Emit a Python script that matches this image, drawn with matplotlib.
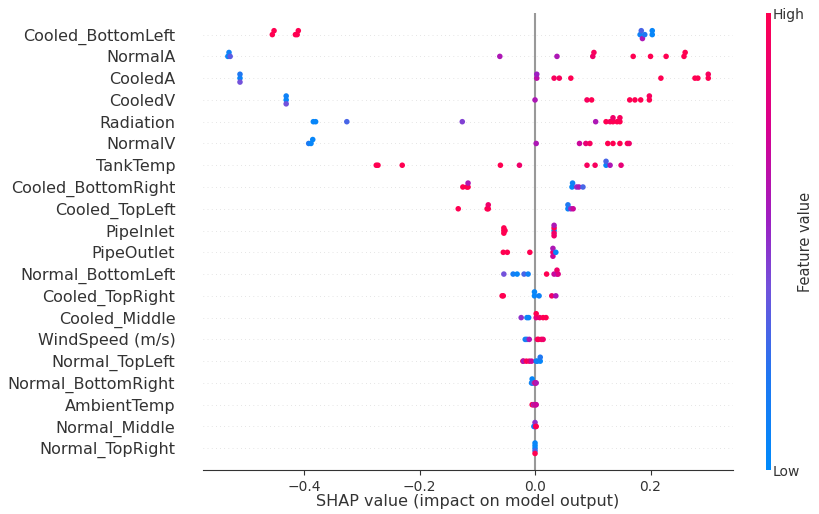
import numpy as np
import matplotlib
matplotlib.use("Agg")
import matplotlib.pyplot as plt
from matplotlib.colors import LinearSegmentedColormap

# features, top to bottom
features = ["Cooled_BottomLeft", "NormalA", "CooledA", "CooledV", "Radiation",
            "NormalV", "TankTemp", "Cooled_BottomRight", "Cooled_TopLeft",
            "PipeInlet", "PipeOutlet", "Normal_BottomLeft", "Cooled_TopRight",
            "Cooled_Middle", "WindSpeed (m/s)", "Normal_TopLeft",
            "Normal_BottomRight", "AmbientTemp", "Normal_Middle", "Normal_TopRight"]

# shap values per feature
shap_vals = [
    [-0.455, -0.452, -0.415, -0.412, -0.410, 0.182, 0.184, 0.186, 0.19, 0.203, 0.203],
    [-0.532, -0.530, -0.528, -0.061, 0.038, 0.10, 0.102, 0.17, 0.20, 0.227, 0.258, 0.26],
    [-0.511, -0.511, -0.511, 0.003, 0.003, 0.033, 0.042, 0.062, 0.218, 0.277, 0.282, 0.300, 0.300],
    [-0.431, -0.431, -0.431, 0.0, 0.09, 0.098, 0.164, 0.173, 0.183, 0.198, 0.198],
    [-0.384, -0.380, -0.326, -0.126, 0.105, 0.123, 0.13, 0.135, 0.135, 0.142, 0.147, 0.147],
    [-0.392, -0.388, -0.385, 0.002, 0.077, 0.088, 0.095, 0.126, 0.135, 0.147, 0.160, 0.163],
    [-0.275, -0.272, -0.23, -0.06, -0.027, 0.09, 0.104, 0.123, 0.123, 0.13, 0.149],
    [-0.125, -0.118, -0.116, -0.116, 0.064, 0.065, 0.072, 0.076, 0.083],
    [-0.133, -0.083, -0.081, -0.081, 0.057, 0.057, 0.062, 0.066],
    [-0.054, -0.054, -0.054, -0.052, 0.033, 0.033, 0.033, 0.033, 0.033],
    [-0.055, -0.048, -0.009, 0.031, 0.031, 0.031, 0.036],
    [-0.054, -0.038, -0.031, -0.019, -0.012, 0.02, 0.033, 0.038, 0.038, 0.040],
    [-0.057, -0.055, -0.001, -0.001, 0.007, 0.029, 0.036],
    [-0.024, -0.014, -0.011, 0.002, 0.002, 0.008, 0.014, 0.019],
    [-0.017, -0.014, -0.010, 0.004, 0.006, 0.011, 0.014],
    [-0.021, -0.020, -0.015, -0.010, -0.006, 0.002, 0.004, 0.009, 0.009],
    [-0.006, -0.005, -0.005, -0.003, 0.0, 0.001, 0.002],
    [-0.005, -0.003, -0.002, 0.0, 0.001, 0.002],
    [-0.002, 0.0, 0.0, 0.001, 0.002],
    [0.0, 0.0, 0.0, 0.0, 0.0],
]

# normalised feature values (0 = low, 1 = high)
feat_vals = [
    [1, 1, 1, 1, 1, 0.1, 0.3, 0.6, 0.2, 0.05, 0.05],
    [0.05, 0.1, 0.35, 0.6, 0.6, 0.9, 0.95, 1, 1, 1, 1, 1],
    [0.05, 0.2, 0.4, 0.65, 0.55, 0.95, 0.95, 1, 1, 1, 1, 1, 0.95],
    [0.05, 0.1, 0.4, 0.6, 0.95, 1, 1, 1, 1, 1, 0.95],
    [0.05, 0.05, 0.3, 0.45, 0.6, 1, 0.95, 1, 0.9, 1, 1, 0.95],
    [0.2, 0.05, 0.05, 0.6, 0.7, 0.85, 0.95, 1, 1, 1, 1, 0.9],
    [1, 1, 1, 1, 0.9, 0.95, 0.95, 0.05, 0.3, 0.6, 0.85],
    [1, 1, 1, 0.6, 0.05, 0.1, 0.5, 0.6, 0.3],
    [1, 1, 1, 0.9, 0.05, 0.2, 0.5, 0.7],
    [1, 1, 1, 1, 0.05, 1, 0.9, 0.6, 0.9],
    [1, 1, 1, 0.9, 0.6, 0.7, 0.05],
    [0.4, 0.15, 0.05, 0.3, 0.1, 1, 0.7, 0.6, 0.9, 0.8],
    [1, 1, 0.05, 0.05, 0.1, 0.9, 0.6],
    [0.5, 0.1, 0.05, 0.8, 1, 0.9, 1, 1],
    [0.1, 0.2, 0.6, 0.9, 1, 0.95, 0.9],
    [1, 0.6, 1, 0.9, 0.7, 0.05, 0.1, 0.05, 0.2],
    [0.05, 0.1, 0.05, 0.3, 0.9, 0.8, 0.6],
    [1, 0.9, 0.5, 1, 0.6, 0.7],
    [0.1, 0.05, 0.5, 0.9, 1],
    [0.05, 0.05, 0.3, 0.05, 1],
]

xticks = [-0.4, -0.2, 0.0, 0.2]

cmap = LinearSegmentedColormap.from_list("red_blue", [
    (0.0, (0.0, 0.545, 0.984)),
    (0.2, (0.12, 0.47, 0.95)),
    (0.4, (0.45, 0.32, 0.86)),
    (0.55, (0.62, 0.12, 0.76)),
    (0.75, (0.85, 0.0, 0.56)),
    (1.0, (1.0, 0.0, 0.318)),
])

fig = plt.figure(figsize=(8.2, 5.14), dpi=100)
ax = fig.add_axes([0.2476, 0.0856, 0.6464, 0.8894])

n = len(features)
row_height = 0.4
for i, (name, sv, fv) in enumerate(zip(features, shap_vals, feat_vals)):
    pos = n - 1 - i
    ax.axhline(y=pos, color="#cccccc", lw=0.5, dashes=(1, 5), zorder=-1)
    sv = np.array(sv, dtype=float)
    fv = np.array(fv, dtype=float)
    # beeswarm stacking like shap
    nbins = 100
    rng = sv.max() - sv.min()
    quant = np.round(nbins * (sv - sv.min()) / (rng + 1e-8))
    inds = np.argsort(quant, kind="stable")
    layer = 0
    last_bin = -1
    ys = np.zeros(len(sv))
    for ind in inds:
        if quant[ind] != last_bin:
            layer = 0
        ys[ind] = np.ceil(layer / 2) * ((layer % 2) * 2 - 1)
        layer += 1
        last_bin = quant[ind]
    ys *= 0.9 * (row_height / np.max(ys + 1))
    ax.scatter(sv, pos + ys, c=fv, cmap=cmap, vmin=0, vmax=1, s=16,
               linewidth=0, zorder=3)

ax.axvline(x=0, color="#999999", zorder=-1)
ax.set_xlim(-0.575, 0.343)
ax.set_ylim(-1, n)
ax.set_yticks(range(n))
ax.set_yticklabels(features[::-1], fontsize=11.5, color="#333333")
ax.set_xticks(xticks)
ax.set_xticklabels(["\u22120.4", "\u22120.2", "0.0", "0.2"], fontsize=10, color="#333333")
ax.tick_params(axis="y", length=0, pad=20)
ax.tick_params(axis="x", color="#333333")
for s in ["top", "right", "left"]:
    ax.spines[s].set_visible(False)
ax.spines["bottom"].set_color("#333333")
ax.set_xlabel("SHAP value (impact on model output)", fontsize=11.5, color="#333333",
              labelpad=0)

# colorbar
cax = fig.add_axes([0.934, 0.0856, 0.005, 0.889])
grad = np.linspace(0, 1, 256).reshape(-1, 1)
cax.imshow(grad, aspect="auto", cmap=cmap, origin="lower", extent=[0, 1, 0, 1])
cax.set_xticks([])
cax.yaxis.tick_right()
cax.set_yticks([0, 1])
cax.set_yticklabels(["Low", "High"], fontsize=10, color="#333333")
cax.tick_params(axis="y", length=0, pad=2)
for s in cax.spines.values():
    s.set_visible(False)
cax.yaxis.set_label_position("right")
cax.set_ylabel("Feature value", fontsize=10.5, color="#333333", labelpad=-5)

fig.savefig("out.png", dpi=100, facecolor="white")
